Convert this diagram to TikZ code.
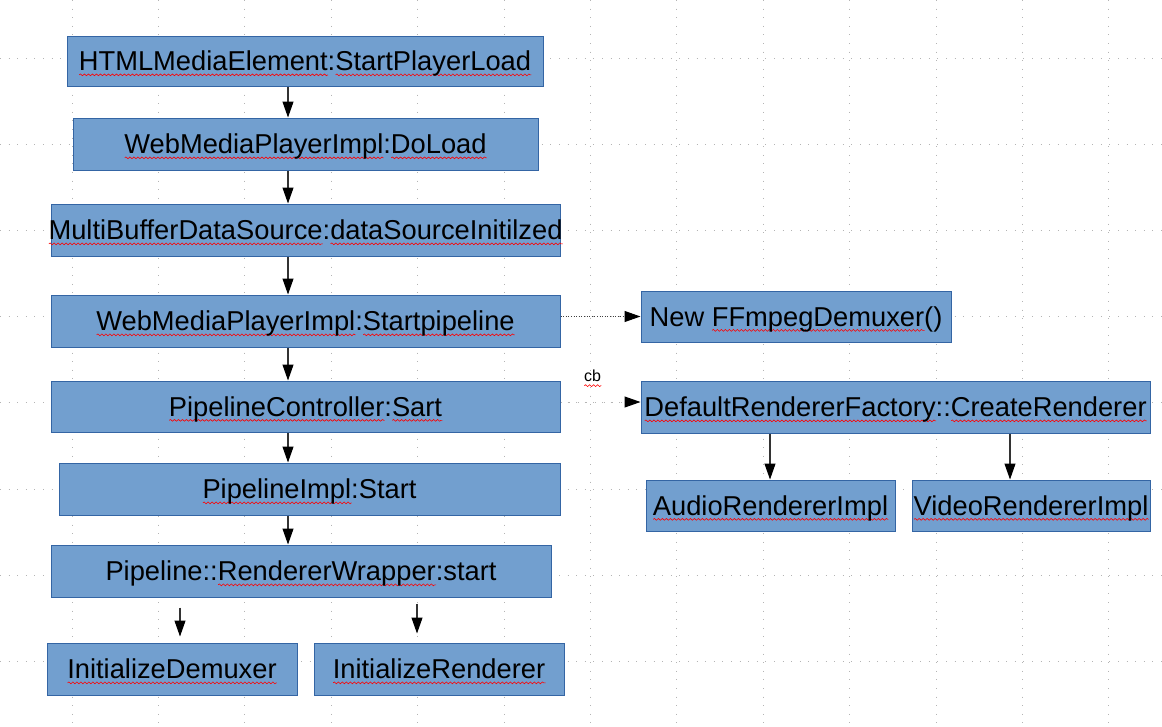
\documentclass[tikz,border=0pt]{standalone}
\usepackage{fontspec}
\setmainfont{Liberation Sans}
\usetikzlibrary{arrows.meta,decorations.pathmorphing,calc}
\definecolor{boxfill}{HTML}{729FCF}
\definecolor{boxline}{HTML}{3465A4}
\definecolor{gridc}{HTML}{B4B4B4}
\definecolor{spellred}{HTML}{FF0000}
\newsavebox\sqbox
\newcommand\sq[1]{\sbox\sqbox{#1}\rlap{\smash{\tikz[baseline=0pt,x=1pt,y=1pt]\draw[arrows=-,solid,spellred,line width=0.6pt,decorate,decoration={snake,amplitude=0.9pt,segment length=4pt}] (0pt,-4pt) -- (\wd\sqbox,-4pt);}}#1}
\tikzset{
  box/.style={draw=boxline, fill=boxfill, line width=1pt, inner sep=0pt,
    minimum height=51pt, text height=19.7pt, text depth=0pt,
    font=\fontsize{27.3}{30}\selectfont},
  arr/.style={draw=black!80, line width=1.1pt,
    -{Triangle[length=16pt,width=11pt,color=black]}},
  dotarr/.style={draw=black!75, line width=1pt, dash pattern=on 1pt off 1.6pt,
    -{Triangle[length=16pt,width=11pt,color=black]}},
  ghostarr/.style={draw=gridc, line width=1pt, dash pattern=on 1pt off 7.6pt,
    -{Triangle[length=16pt,width=11pt,color=black]}},
  gridline/.style={draw=gridc, line width=0.9pt, dash pattern=on 0.9pt off 7.7pt},
  cblabel/.style={inner sep=0pt, font=\fontsize{16}{18}\selectfont}
}
\begin{document}
\begin{tikzpicture}[x=1pt,y=-1pt]
\useasboundingbox (0,0) rectangle (1162,726);
\fill[white] (0,0) rectangle (1162,726);
% background grid
\foreach \k in {0,...,7}
  \draw[gridline] (0,58.5+86.1*\k) -- (1162,58.5+86.1*\k);
\foreach \k in {0,...,12}
  \draw[gridline] (72+86.4*\k,0) -- (72+86.4*\k,726);

% main column
\node[box, minimum width=476pt, minimum height=50pt] (hme) at (305,61)
  {\makebox[0pt]{\sq{HTMLMediaElement}:\sq{StartPlayerLoad}}};
\node[box, minimum width=465pt, minimum height=52pt] (dol) at (305.5,144)
  {\makebox[0pt]{\sq{WebMediaPlayerImpl}:\sq{DoLoad}}};
\node[box, minimum width=509pt, minimum height=52pt] (mbd) at (305.5,230)
  {\makebox[0pt]{\sq{MultiBufferDataSource}:\sq{dataSourceInitilzed}}};
\node[box, minimum width=509pt, minimum height=52pt] (sp) at (305.5,321)
  {\makebox[0pt]{\sq{WebMediaPlayerImpl}:\sq{Startpipeline}}};
\node[box, minimum width=509pt] (ctl) at (305.5,406.5)
  {\makebox[0pt]{\sq{PipelineController}:\sq{Sart}}};
\node[box, minimum width=501pt, minimum height=52pt] (pim) at (309.5,489)
  {\makebox[0pt]{\sq{PipelineImpl}:Start}};
\node[box, minimum width=500pt, minimum height=52pt] (rw) at (301,571)
  {\makebox[0pt]{Pipeline::\sq{RendererWrapper}:start}};
\node[box, minimum width=250pt, minimum height=52pt] (idm) at (172,669)
  {\makebox[0pt]{\sq{InitializeDemuxer}}};
\node[box, minimum width=250pt, minimum height=52pt] (ire) at (439,669)
  {\makebox[0pt]{\sq{InitializeRenderer}}};

% right side
\node[box, minimum width=310pt] (ff) at (796,316.5)
  {\makebox[0pt]{New \sq{FFmpegDemuxer}()}};
\node[box, minimum width=509pt, minimum height=52pt] (drf) at (895.5,407)
  {\makebox[0pt]{\sq{DefaultRendererFactory}::\sq{CreateRenderer}}};
\node[box, minimum width=249pt] (ari) at (770.5,505.5)
  {\makebox[0pt]{\sq{AudioRendererImpl}}};
\node[box, minimum width=238pt] (vri) at (1031,505.5)
  {\makebox[0pt]{\sq{VideoRendererImpl}}};

% helper coordinates
\coordinate (colx) at (288,0);
\coordinate (dmx) at (180,0);
\coordinate (rnx) at (417,0);
\coordinate (cby) at (0,402);
\coordinate (ax) at (770,0);
\coordinate (vx) at (1010,0);

% connectors
\draw[arr] (hme.south -| colx) -- (dol.north -| colx);
\draw[arr] (dol.south -| colx) -- (mbd.north -| colx);
\draw[arr] (mbd.south -| colx) -- (sp.north -| colx);
\draw[arr] (sp.south -| colx) -- (ctl.north -| colx);
\draw[arr] (ctl.south -| colx) -- (pim.north -| colx);
\draw[arr] (pim.south -| colx) -- (rw.north -| colx);
\draw[arr, shorten <=10pt, shorten >=6pt] (rw.south -| dmx) -- (idm.north -| dmx);
\draw[arr, shorten <=6pt, shorten >=9pt] (rw.south -| rnx) -- (ire.north -| rnx);
\draw[dotarr] (sp.east |- ff.west) -- (ff.west);
\draw[ghostarr] (ctl.east |- cby) -- node[cblabel, pos=0.4, above=20pt] (cb) {\sq{cb}} (drf.west |- cby);
\draw[arr] (drf.south -| ax) -- (ari.north -| ax);
\draw[arr] (drf.south -| vx) -- (vri.north -| vx);
\end{tikzpicture}
\end{document}
